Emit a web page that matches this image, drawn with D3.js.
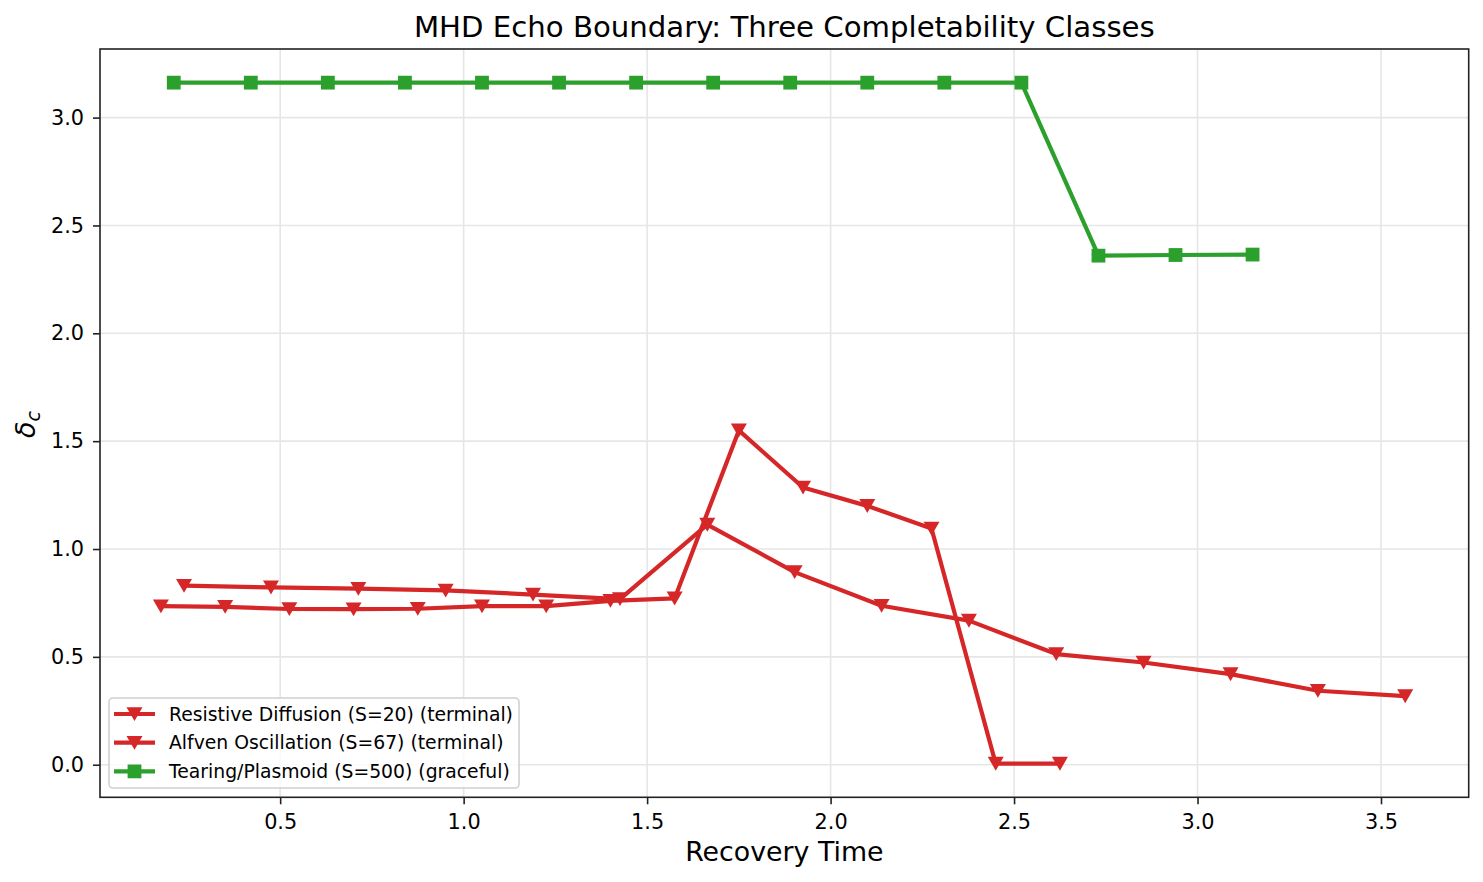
<!DOCTYPE html>
<html lang="en">
<head>
    <meta charset="UTF-8">
    <title>MHD Echo Boundary</title>
    <script src="https://d3js.org/d3.v7.min.js"></script>
    <style>
        body { margin: 0; background: #fff; }
        text { font-family: "DejaVu Sans", sans-serif; fill: #000; }
    </style>
</head>
<body>
    <svg id="chart"></svg>
    <script>
// data
const resistiveX = [0.175, 0.35, 0.525, 0.70, 0.875, 1.05, 1.225, 1.40, 1.575, 1.75, 1.925, 2.10, 2.275, 2.45, 2.625];
const resistiveY = [0.735, 0.732, 0.722, 0.721, 0.723, 0.735, 0.735, 0.760, 0.771, 1.55, 1.285, 1.200, 1.095, 0.005, 0.005];

const alfvenX = [0.238, 0.475, 0.713, 0.951, 1.189, 1.426, 1.664, 1.902, 2.139, 2.377, 2.615, 2.853, 3.090, 3.328, 3.566];
const alfvenY = [0.830, 0.822, 0.816, 0.808, 0.789, 0.768, 1.113, 0.893, 0.737, 0.668, 0.513, 0.474, 0.420, 0.343, 0.318];

const tearingX = [0.21, 0.42, 0.63, 0.84, 1.05, 1.26, 1.47, 1.68, 1.89, 2.10, 2.31, 2.52, 2.73, 2.94, 3.15];
const tearingY = [3.162, 3.162, 3.162, 3.162, 3.162, 3.162, 3.162, 3.162, 3.162, 3.162, 3.162, 3.162, 2.360, 2.363, 2.365];

const seriesNames = ["Resistive Diffusion (S=20) (terminal)", "Alfven Oscillation (S=67) (terminal)", "Tearing/Plasmoid (S=500) (graceful)"];
const xTicks = [0.5, 1.0, 1.5, 2.0, 2.5, 3.0, 3.5];
const yTicks = [0.0, 0.5, 1.0, 1.5, 2.0, 2.5, 3.0];

const width = 1483, height = 882;
const plotL = 100, plotR = 1468.7, plotT = 49, plotB = 797.3;

const red = "#d62728", green = "#2ca02c";

const svg = d3.select("#chart").attr("width", width).attr("height", height);

const x = d3.scaleLinear().domain([0.009, 3.739]).range([plotL, plotR]);
const y = d3.scaleLinear().domain([-0.151, 3.318]).range([plotB, plotT]);

// grid
svg.append("g").selectAll("line").data(xTicks).join("line")
    .attr("x1", d => x(d)).attr("x2", d => x(d))
    .attr("y1", plotT).attr("y2", plotB)
    .attr("stroke", "#e6e6e6").attr("stroke-width", 1.6);
svg.append("g").selectAll("line").data(yTicks).join("line")
    .attr("x1", plotL).attr("x2", plotR)
    .attr("y1", d => y(d)).attr("y2", d => y(d))
    .attr("stroke", "#e6e6e6").attr("stroke-width", 1.6);

// axes
const xAxis = svg.append("g").attr("transform", `translate(0,${plotB})`)
    .call(d3.axisBottom(x).tickValues(xTicks).tickFormat(d3.format(".1f")).tickSize(7).tickPadding(10));
const yAxis = svg.append("g").attr("transform", `translate(${plotL},0)`)
    .call(d3.axisLeft(y).tickValues(yTicks).tickFormat(d3.format(".1f")).tickSize(7).tickPadding(9));
[xAxis, yAxis].forEach(a => {
    a.select(".domain").remove();
    a.selectAll(".tick line").attr("stroke", "#222").attr("stroke-width", 1.6);
    a.selectAll(".tick text").attr("font-size", 20.8).attr("font-family", "DejaVu Sans").attr("fill", "#000");
});

// lines + markers
const line = d3.line().x(d => x(d[0])).y(d => y(d[1]));
const tri = "M0,7L-8,-6.8L8,-6.8Z"; // triangle pointing down

function drawSeries(xs, ys, color, marker) {
    const pts = xs.map((v, i) => [v, ys[i]]);
    const g = svg.append("g");
    g.append("path").datum(pts).attr("d", line)
        .attr("fill", "none").attr("stroke", color).attr("stroke-width", 4.2).attr("stroke-linejoin", "round");
    if (marker === "v") {
        g.selectAll("path.m").data(pts).join("path").attr("class", "m")
            .attr("d", tri).attr("fill", color)
            .attr("transform", d => `translate(${x(d[0])},${y(d[1])})`);
    } else {
        g.selectAll("rect").data(pts).join("rect")
            .attr("x", d => x(d[0]) - 6.9).attr("y", d => y(d[1]) - 6.9)
            .attr("width", 13.8).attr("height", 13.8).attr("fill", color);
    }
}
drawSeries(resistiveX, resistiveY, red, "v");
drawSeries(alfvenX, alfvenY, red, "v");
drawSeries(tearingX, tearingY, green, "s");

// frame
svg.append("rect").attr("x", plotL).attr("y", plotT)
    .attr("width", plotR - plotL).attr("height", plotB - plotT)
    .attr("fill", "none").attr("stroke", "#222").attr("stroke-width", 1.6);

// legend
const leg = svg.append("g");
leg.append("rect").attr("x", 109).attr("y", 698).attr("width", 410).attr("height", 90).attr("rx", 4)
    .attr("fill", "#fff").attr("fill-opacity", 0.8).attr("stroke", "#d0d0d0").attr("stroke-width", 1.6);
const legColors = [red, red, green], legMarkers = ["v", "v", "s"];
seriesNames.forEach((name, i) => {
    const cy = 714 + i * 28.7;
    leg.append("line").attr("x1", 114).attr("x2", 155).attr("y1", cy).attr("y2", cy)
        .attr("stroke", legColors[i]).attr("stroke-width", 4.2);
    if (legMarkers[i] === "v") {
        leg.append("path").attr("d", tri).attr("fill", legColors[i]).attr("transform", `translate(134.5,${cy})`);
    } else {
        leg.append("rect").attr("x", 134.5 - 6.9).attr("y", cy - 6.9).attr("width", 13.8).attr("height", 13.8).attr("fill", legColors[i]);
    }
    leg.append("text").attr("x", 169).attr("y", cy).attr("dy", "0.36em")
        .attr("font-size", 18.8).text(name);
});

// titles
svg.append("text").attr("x", (plotL + plotR) / 2).attr("y", 37.3)
    .attr("text-anchor", "middle").attr("font-size", 29.2)
    .text("MHD Echo Boundary: Three Completability Classes");
svg.append("text").attr("x", (plotL + plotR) / 2).attr("y", 861)
    .attr("text-anchor", "middle").attr("font-size", 26.8)
    .text("Recovery Time");
const yl = svg.append("text").attr("transform", `translate(35,424.5) rotate(-90)`)
    .attr("text-anchor", "middle").attr("font-size", 27);
yl.append("tspan").attr("font-style", "italic").text("δ");
yl.append("tspan").attr("font-style", "italic").attr("font-size", 19).attr("dy", 5).text("c");
    </script>
</body>
</html>
